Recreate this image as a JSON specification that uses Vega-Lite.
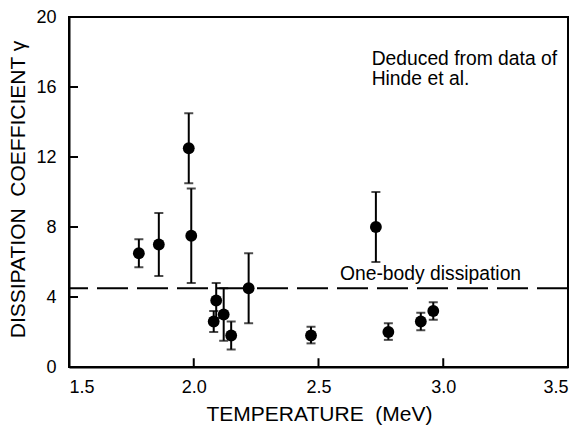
{
  "$schema": "https://vega.github.io/schema/vega-lite/v6.json",
  "width": 499,
  "height": 350,
  "autosize": "none",
  "padding": {"left": 69, "top": 17, "right": 14, "bottom": 65},
  "config": {
    "view": {"stroke": "black", "strokeWidth": 2},
    "font": "Liberation Sans",
    "axis": {
      "grid": false,
      "ticks": false,
      "domainColor": "black",
      "domainWidth": 2,
      "labelColor": "black",
      "labelFont": "Liberation Sans",
      "labelFontSize": 18,
      "titleColor": "black",
      "titleFont": "Liberation Sans",
      "titleFontSize": 21,
      "titleFontWeight": "normal"
    }
  },
  "datasets": {
    "pts": [
      {"T": 1.78, "g": 6.5, "lo": 5.7, "hi": 7.3},
      {"T": 1.86, "g": 7.0, "lo": 5.2, "hi": 8.8},
      {"T": 1.98, "g": 12.5, "lo": 10.5, "hi": 14.5},
      {"T": 1.99, "g": 7.5, "lo": 4.8, "hi": 10.2},
      {"T": 2.09, "g": 3.8, "lo": 2.8, "hi": 4.8},
      {"T": 2.08, "g": 2.6, "lo": 2.0, "hi": 3.2},
      {"T": 2.12, "g": 3.0, "lo": 1.5, "hi": 4.5},
      {"T": 2.15, "g": 1.8, "lo": 1.0, "hi": 2.6},
      {"T": 2.22, "g": 4.5, "lo": 2.5, "hi": 6.5},
      {"T": 2.47, "g": 1.8, "lo": 1.35, "hi": 2.3},
      {"T": 2.73, "g": 8.0, "lo": 6.0, "hi": 10.0},
      {"T": 2.78, "g": 2.0, "lo": 1.55, "hi": 2.5},
      {"T": 2.91, "g": 2.6, "lo": 2.1, "hi": 3.1},
      {"T": 2.96, "g": 3.2, "lo": 2.7, "hi": 3.7}
    ],
    "ref": [{"g": 4.5}],
    "xticks": [
      {"T": 2.0, "g0": 0, "g1": 0.5},
      {"T": 2.5, "g0": 0, "g1": 0.5},
      {"T": 3.0, "g0": 0, "g1": 0.5}
    ],
    "yticks": [
      {"g": 4, "T0": 1.5, "T1": 1.536},
      {"g": 8, "T0": 1.5, "T1": 1.536},
      {"g": 12, "T0": 1.5, "T1": 1.536},
      {"g": 16, "T0": 1.5, "T1": 1.536}
    ],
    "notes": [
      {"T": 2.713, "g": 17.26, "label": "Deduced from data of", "style": "normal"},
      {"T": 2.713, "g": 16.11, "label": "Hinde", "style": "normal"},
      {"T": 2.937, "g": 16.11, "label": "et al.", "style": "italic"},
      {"T": 2.586, "g": 4.97, "label": "One-body dissipation", "style": "normal"}
    ]
  },
  "layer": [
    {
      "data": {"name": "ref"},
      "mark": {"type": "rule", "color": "black", "strokeWidth": 2, "strokeDash": [31, 9]},
      "encoding": {
        "y": {"field": "g", "type": "quantitative", "scale": {"domain": [0, 20], "nice": false, "zero": false}}
      }
    },
    {
      "data": {"name": "pts"},
      "mark": {"type": "rule", "color": "black", "strokeWidth": 2},
      "encoding": {
        "x": {"field": "T", "type": "quantitative",
              "scale": {"domain": [1.5, 3.5], "nice": false, "zero": false},
              "axis": {"values": [1.5, 2.0, 2.5, 3.0, 3.5], "format": ".1f", "title": "TEMPERATURE\u00a0 (MeV)",
                       "labelPadding": 11, "titleX": 250, "titleY": 53, "titleBaseline": "alphabetic", "titleAlign": "center"}},
        "y": {"field": "lo", "type": "quantitative",
              "scale": {"domain": [0, 20], "nice": false, "zero": false},
              "axis": {"values": [0, 4, 8, 12, 16, 20], "format": "d", "title": "DISSIPATION\u00a0 COEFFICIENT γ",
                       "labelPadding": 13, "titleX": -51, "titleY": 172, "titleBaseline": "middle", "titleAlign": "center", "titleAngle": 270}},
        "y2": {"field": "hi"}
      }
    },
    {
      "data": {"name": "xticks"},
      "mark": {"type": "rule", "color": "black", "strokeWidth": 2},
      "encoding": {
        "x": {"field": "T", "type": "quantitative"},
        "y": {"field": "g0", "type": "quantitative"},
        "y2": {"field": "g1"}
      }
    },
    {
      "data": {"name": "yticks"},
      "mark": {"type": "rule", "color": "black", "strokeWidth": 2},
      "encoding": {
        "y": {"field": "g", "type": "quantitative"},
        "x": {"field": "T0", "type": "quantitative"},
        "x2": {"field": "T1"}
      }
    },
    {
      "data": {"name": "pts"},
      "mark": {"type": "tick", "color": "black", "thickness": 2, "size": 9, "orient": "horizontal"},
      "encoding": {
        "x": {"field": "T", "type": "quantitative"},
        "y": {"field": "hi", "type": "quantitative"}
      }
    },
    {
      "data": {"name": "pts"},
      "mark": {"type": "tick", "color": "black", "thickness": 2, "size": 9, "orient": "horizontal"},
      "encoding": {
        "x": {"field": "T", "type": "quantitative"},
        "y": {"field": "lo", "type": "quantitative"}
      }
    },
    {
      "data": {"name": "pts"},
      "mark": {"type": "point", "shape": "circle", "filled": true, "color": "black", "opacity": 1, "size": 140},
      "encoding": {
        "x": {"field": "T", "type": "quantitative"},
        "y": {"field": "g", "type": "quantitative"}
      }
    },
    {
      "data": {"name": "notes"},
      "mark": {"type": "text", "align": "left", "baseline": "alphabetic", "fontSize": 19.3, "font": "Liberation Sans", "color": "black"},
      "encoding": {
        "x": {"field": "T", "type": "quantitative"},
        "y": {"field": "g", "type": "quantitative"},
        "text": {"field": "label"},
        "fontStyle": {"field": "style", "type": "nominal", "scale": null}
      }
    }
  ]
}
